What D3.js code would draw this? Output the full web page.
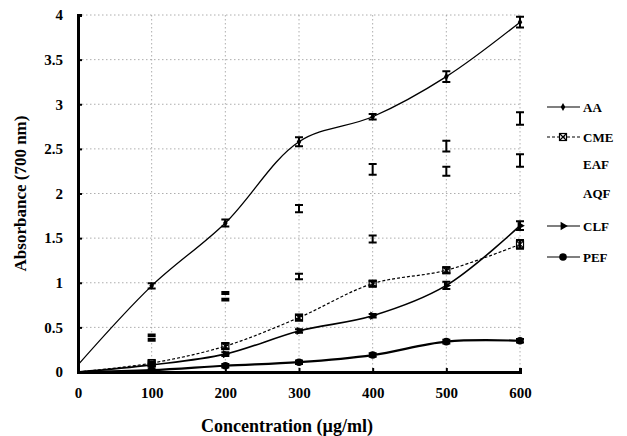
<!DOCTYPE html>
<html>
<head>
<meta charset="utf-8">
<script src="https://cdn.jsdelivr.net/npm/d3@7"></script>
<style>
  body { margin: 0; background: #fff; }
  text { font-family: "Liberation Serif", "Times New Roman", serif; font-weight: bold; fill: #000; }
</style>
</head>
<body>
<svg id="chart" width="627" height="436"></svg>
<script>
const concentrations = [0, 100, 200, 300, 400, 500, 600];

// absorbance means and error bar half-widths per extract
const aaValues  = [0.08, 0.965, 1.67, 2.58, 2.86, 3.31, 3.92];
const aaErr     = [0, 0.03, 0.04, 0.05, 0.03, 0.06, 0.06];
const cmeValues = [0, 0.10, 0.29, 0.61, 0.99, 1.14, 1.43];
const cmeErr    = [0, 0.02, 0.03, 0.03, 0.03, 0.03, 0.05];
const eafValues = [0, 0.41, 0.885, 1.83, 2.27, 2.53, 2.84];
const eafErr    = [0, 0.01, 0.01, 0.04, 0.06, 0.06, 0.07];
const aqfValues = [0, 0.36, 0.81, 1.07, 1.49, 2.25, 2.37];
const aqfErr    = [0, 0.01, 0.01, 0.03, 0.04, 0.05, 0.07];
const clfValues = [0, 0.08, 0.20, 0.46, 0.63, 0.97, 1.64];
const clfErr    = [0, 0.02, 0.02, 0.02, 0.02, 0.04, 0.05];
const pefValues = [0, 0.02, 0.07, 0.11, 0.19, 0.34, 0.35];
const pefErr    = [0, 0.01, 0.02, 0.02, 0.02, 0.02, 0.02];

const yTicks = [0, 0.5, 1, 1.5, 2, 2.5, 3, 3.5, 4];
const xTicks = [0, 100, 200, 300, 400, 500, 600];

const series = [
  { name: 'AA',  values: aaValues,  err: aaErr,  line: true,  dash: null,  width: 1.3, marker: 'diamond' },
  { name: 'CME', values: cmeValues, err: cmeErr, line: true,  dash: '3,2', width: 1.2, marker: 'cross' },
  { name: 'EAF', values: eafValues, err: eafErr, line: false, dash: null,  width: 0,   marker: null },
  { name: 'AQF', values: aqfValues, err: aqfErr, line: false, dash: null,  width: 0,   marker: null },
  { name: 'CLF', values: clfValues, err: clfErr, line: true,  dash: null,  width: 1.6, marker: 'triangle' },
  { name: 'PEF', values: pefValues, err: pefErr, line: true,  dash: null,  width: 2.2, marker: 'circle' }
];

const svg = d3.select('#chart');
const margin = { left: 78, right: 107, top: 15, bottom: 64 };
const width = 627 - margin.left - margin.right;
const height = 436 - margin.top - margin.bottom;

const x = d3.scaleLinear().domain([0, 600]).range([0, width]);
const y = d3.scaleLinear().domain([0, 4]).range([height, 0]);

const g = svg.append('g').attr('transform', `translate(${margin.left},${margin.top})`);

// dotted grid
g.append('g')
  .selectAll('line')
  .data(yTicks.filter(d => d > 0))
  .join('line')
  .attr('x1', 0).attr('x2', width)
  .attr('y1', d => y(d)).attr('y2', d => y(d))
  .attr('stroke', '#999').attr('stroke-width', 0.8).attr('stroke-dasharray', '1.5,2.5');

g.append('g')
  .selectAll('line')
  .data(xTicks.filter(d => d > 0))
  .join('line')
  .attr('x1', d => x(d)).attr('x2', d => x(d))
  .attr('y1', 0).attr('y2', height)
  .attr('stroke', '#999').attr('stroke-width', 0.8).attr('stroke-dasharray', '1.5,2.5');

// axes
const yAxis = g.append('g').call(d3.axisLeft(y).tickValues(yTicks).tickSize(-4).tickPadding(15).tickFormat(d3.format('')));
const xAxis = g.append('g').attr('transform', `translate(0,${height})`)
  .call(d3.axisBottom(x).tickValues(xTicks).tickSize(-4).tickPadding(15));

[yAxis, xAxis].forEach(ax => {
  ax.select('.domain').attr('stroke', '#000').attr('stroke-width', 3);
  ax.selectAll('.tick line').attr('stroke', '#000').attr('stroke-width', 2);
  ax.selectAll('.tick text').style('font-size', '15px').style('font-family', '"Liberation Serif", serif').style('font-weight', 'bold');
});

const line = d3.line()
  .x((d, i) => x(concentrations[i]))
  .y(d => y(d))
  .curve(d3.curveCatmullRom.alpha(0.5));

function drawMarker(sel, type, cx, cy) {
  if (type === 'diamond') {
    sel.append('path').attr('d', d3.symbol(d3.symbolDiamond, 18)()).attr('transform', `translate(${cx},${cy})`).attr('fill', '#000');
  } else if (type === 'cross') {
    sel.append('rect').attr('x', cx - 3.5).attr('y', cy - 3.5).attr('width', 7).attr('height', 7)
      .attr('fill', 'none').attr('stroke', '#000').attr('stroke-width', 1.2);
    sel.append('path').attr('d', `M${cx - 3.5},${cy - 3.5}L${cx + 3.5},${cy + 3.5}M${cx + 3.5},${cy - 3.5}L${cx - 3.5},${cy + 3.5}`)
      .attr('stroke', '#000').attr('stroke-width', 1.2);
  } else if (type === 'triangle') {
    sel.append('path').attr('d', d3.symbol(d3.symbolTriangle, 30)()).attr('transform', `translate(${cx},${cy}) rotate(90)`).attr('fill', '#000');
  } else if (type === 'circle') {
    sel.append('circle').attr('cx', cx).attr('cy', cy).attr('r', 3.8).attr('fill', '#000');
  }
}

series.forEach(s => {
  const sg = g.append('g').attr('class', 'series-' + s.name);

  if (s.line) {
    sg.append('path')
      .attr('d', line(s.values))
      .attr('fill', 'none')
      .attr('stroke', '#000')
      .attr('stroke-width', s.width)
      .attr('stroke-dasharray', s.dash);
  }

  s.values.forEach((v, i) => {
    if (i === 0) return;
    const cx = x(concentrations[i]);
    const e = s.err[i];
    const top = y(v + e), bottom = y(v - e);
    // error bar with caps
    sg.append('path')
      .attr('d', `M${cx},${top}L${cx},${bottom}M${cx - 4},${top}L${cx + 4},${top}M${cx - 4},${bottom}L${cx + 4},${bottom}`)
      .attr('stroke', '#000').attr('stroke-width', 2).attr('fill', 'none');
    if (s.marker) drawMarker(sg, s.marker, cx, y(v));
  });
});

// legend
const legend = svg.append('g').attr('transform', 'translate(547,107)');
const legendY = [0, 30, 57, 86, 119, 150];
series.forEach((s, i) => {
  const lg = legend.append('g').attr('transform', `translate(0,${legendY[i]})`);
  if (s.line) {
    lg.append('line').attr('x1', 0).attr('x2', 33).attr('y1', 0).attr('y2', 0)
      .attr('stroke', '#000').attr('stroke-width', 1.2).attr('stroke-dasharray', s.dash);
    drawMarker(lg, s.marker, 16, 0);
  }
  lg.append('text').attr('x', 36).attr('y', 0).attr('dy', '0.35em')
    .style('font-size', '13px').text(s.name);
});

// axis titles
svg.append('text')
  .attr('transform', `translate(26,${margin.top + height / 2}) rotate(-90)`)
  .attr('text-anchor', 'middle')
  .style('font-size', '17px')
  .text('Absorbance (700 nm)');

svg.append('text')
  .attr('x', 287)
  .attr('y', 432)
  .attr('text-anchor', 'middle')
  .style('font-size', '18px')
  .text('Concentration (µg/ml)');
</script>
</body>
</html>
